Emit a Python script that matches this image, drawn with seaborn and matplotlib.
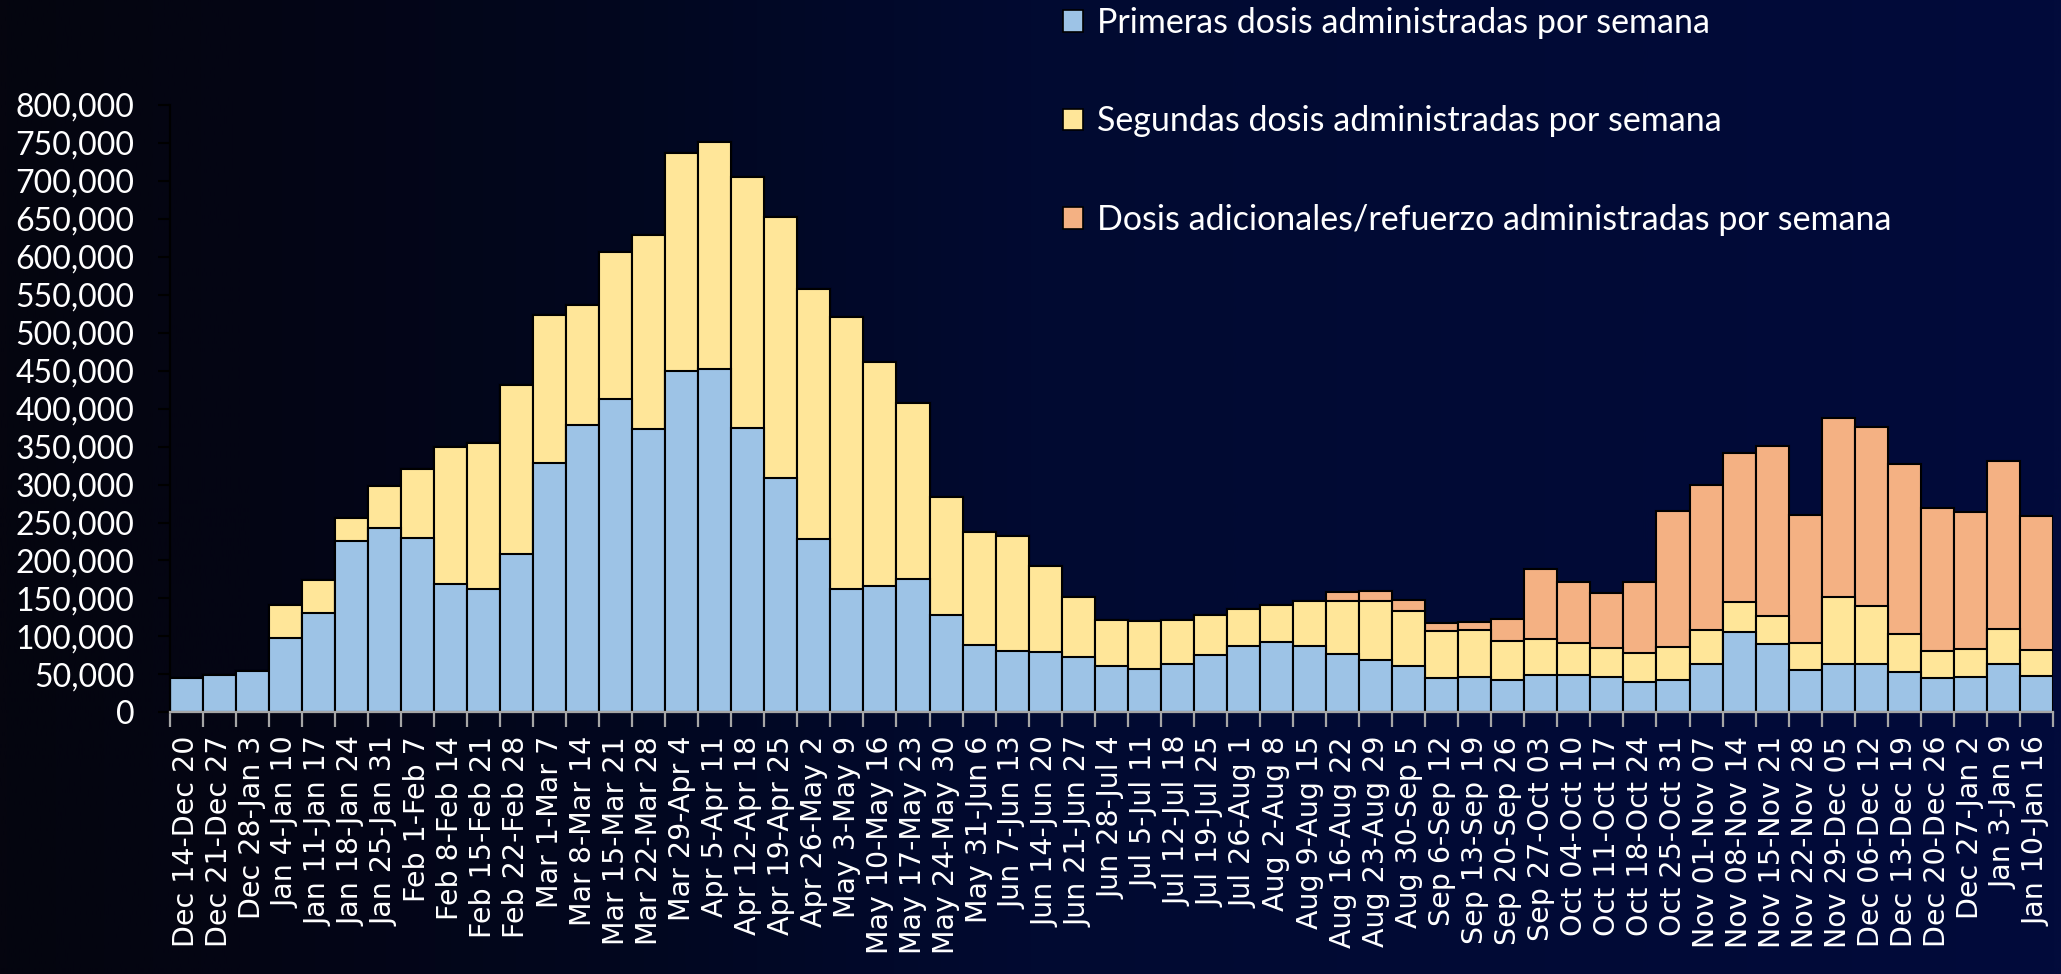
import numpy as np
import pandas as pd
import matplotlib
matplotlib.use("Agg")
import matplotlib.pyplot as plt
from matplotlib.patches import Patch
from matplotlib.colors import LinearSegmentedColormap
import seaborn as sns

# ---------------- data ----------------
weeks = [
    "Dec 14-Dec 20", "Dec 21-Dec 27", "Dec 28-Jan 3", "Jan 4-Jan 10", "Jan 11-Jan 17",
    "Jan 18-Jan 24", "Jan 25-Jan 31", "Feb 1-Feb 7", "Feb 8-Feb 14", "Feb 15-Feb 21",
    "Feb 22-Feb 28", "Mar 1-Mar 7", "Mar 8-Mar 14", "Mar 15-Mar 21", "Mar 22-Mar 28",
    "Mar 29-Apr 4", "Apr 5-Apr 11", "Apr 12-Apr 18", "Apr 19-Apr 25", "Apr 26-May 2",
    "May 3-May 9", "May 10-May 16", "May 17-May 23", "May 24-May 30", "May 31-Jun 6",
    "Jun 7-Jun 13", "Jun 14-Jun 20", "Jun 21-Jun 27", "Jun 28-Jul 4", "Jul 5-Jul 11",
    "Jul 12-Jul 18", "Jul 19-Jul 25", "Jul 26-Aug 1", "Aug 2-Aug 8", "Aug 9-Aug 15",
    "Aug 16-Aug 22", "Aug 23-Aug 29", "Aug 30-Sep 5", "Sep 6-Sep 12", "Sep 13-Sep 19",
    "Sep 20-Sep 26", "Sep 27-Oct 03", "Oct 04-Oct 10", "Oct 11-Oct 17", "Oct 18-Oct 24",
    "Oct 25-Oct 31", "Nov 01-Nov 07", "Nov 08-Nov 14", "Nov 15-Nov 21", "Nov 22-Nov 28",
    "Nov 29-Dec 05", "Dec 06-Dec 12", "Dec 13-Dec 19", "Dec 20-Dec 26", "Dec 27-Jan 2",
    "Jan 3-Jan 9", "Jan 10-Jan 16",
]

primeras = [
    45000, 49000, 54500, 98000, 131000, 225000, 243000, 229000, 169000, 162000,
    209000, 329000, 378000, 413000, 373000, 450000, 452000, 374000, 308000, 228000,
    162000, 167000, 175000, 128000, 88000, 81000, 80000, 73000, 61000, 57500,
    63500, 75000, 87500, 92000, 87500, 77000, 69500, 61000, 44800, 47000,
    43000, 49500, 49500, 47000, 40000, 42500, 64000, 106000, 90500, 55500,
    63000, 63000, 53000, 44800, 46000, 64000, 48000,
]

segundas = [
    0, 0, 0, 43000, 43000, 31000, 55000, 92000, 180000, 193000,
    222000, 194000, 159000, 193000, 256000, 287000, 299000, 331000, 345000, 330000,
    359000, 294000, 233000, 155000, 150000, 151000, 113000, 79000, 61000, 62500,
    58500, 53500, 48000, 49500, 58500, 69500, 76500, 72500, 62200, 62000,
    51500, 46500, 41500, 37500, 38500, 43000, 45000, 39000, 36500, 35500,
    88500, 77000, 50500, 35700, 38000, 46000, 34500,
]

adicionales = [
    0, 0, 0, 0, 0, 0, 0, 0, 0, 0,
    0, 0, 0, 0, 0, 0, 0, 0, 0, 0,
    0, 0, 0, 0, 0, 0, 0, 0, 0, 0,
    0, 0, 0, 0, 0, 12000, 14000, 14500, 10000, 10500,
    28000, 92500, 80500, 72000, 93500, 180000, 191000, 196500, 224000, 169000,
    236000, 236000, 224000, 188000, 180000, 221000, 175500,
]

yticks = list(range(0, 800001, 50000))
series_labels = [
    "Primeras dosis administradas por semana",
    "Segundas dosis administradas por semana",
    "Dosis adicionales/refuerzo administradas por semana",
]
series_colors = ["#9DC3E6", "#FFE699", "#F4B183"]

# ---------------- frame ----------------
df = pd.DataFrame({
    "semana": weeks,
    "primeras": primeras,
    "segundas": segundas,
    "adicionales": adicionales,
})
df["hasta_segundas"] = df["primeras"] + df["segundas"]
df["total"] = df["hasta_segundas"] + df["adicionales"]

W, H = 2061, 974
fig = plt.figure(figsize=(W / 100, H / 100), dpi=100)
fig.patch.set_facecolor("#03061a")

# background gradient
bg = fig.add_axes([0, 0, 1, 1])
bg.set_zorder(0)
cmap = LinearSegmentedColormap.from_list(
    "bg", [(0.0, "#05050f"), (0.12, "#040514"), (0.3, "#02071f"),
           (0.5, "#010a31"), (1.0, "#020b3b")]
)
bg.imshow(np.linspace(0, 1, 1024).reshape(1, -1), aspect="auto", cmap=cmap,
          extent=[0, 1, 0, 1])
bg.axis("off")

ax_left, ax_right = 169.5, 2053.0
ax_bottom, ax_top = 712.3, 105.0
ax = fig.add_axes([ax_left / W, (H - ax_bottom) / H,
                   (ax_right - ax_left) / W, (ax_bottom - ax_top) / H])
ax.set_zorder(1)
ax.patch.set_alpha(0)

# stacked bars: draw cumulative totals from the top down
for col, c in zip(["total", "hasta_segundas", "primeras"], series_colors[::-1]):
    sns.barplot(data=df, x="semana", y=col, color=c, saturation=1, width=1.0,
                edgecolor="black", linewidth=1.5, ax=ax)

n = len(weeks)
ax.set_xlim(-0.5, n - 0.5)
ax.set_ylim(0, 800000)
ax.set_xlabel("")
ax.set_ylabel("")

ax.set_xticks(np.arange(n))
ax.set_xticklabels(weeks, rotation=90, fontsize=20.5, color="white",
                   family="DejaVu Sans")
ax.tick_params(axis="x", which="major", length=0, pad=17)
ax.set_xticks(np.arange(n + 1) - 0.5, minor=True)
ax.tick_params(axis="x", which="minor", length=11, width=1.6, color="#a6a6a6",
               direction="out")

ax.set_yticks(yticks)
ax.set_yticklabels([f"{v:,}" for v in yticks], fontsize=23, color="white",
                   family="Lato")
ax.tick_params(axis="y", length=8.6, width=1.5, color="black", pad=16.5)

for s in ["top", "right"]:
    ax.spines[s].set_visible(False)
ax.spines["left"].set_color("black")
ax.spines["left"].set_linewidth(1.6)
ax.spines["bottom"].set_color("#a6a6a6")
ax.spines["bottom"].set_linewidth(1.6)

handles = [Patch(facecolor=c, edgecolor="black", linewidth=1.2) for c in series_colors]
fig.legend(handles, series_labels, loc="upper left",
           bbox_to_anchor=(1063 / W, 1 - 7 / H), frameon=False,
           prop={"family": "Lato", "size": 24.5}, labelcolor="white",
           handlelength=0.6, handleheight=0.6, handletextpad=0.4,
           labelspacing=1.95, borderpad=0, borderaxespad=0)

fig.savefig("out.png", dpi=100, facecolor=fig.get_facecolor())
